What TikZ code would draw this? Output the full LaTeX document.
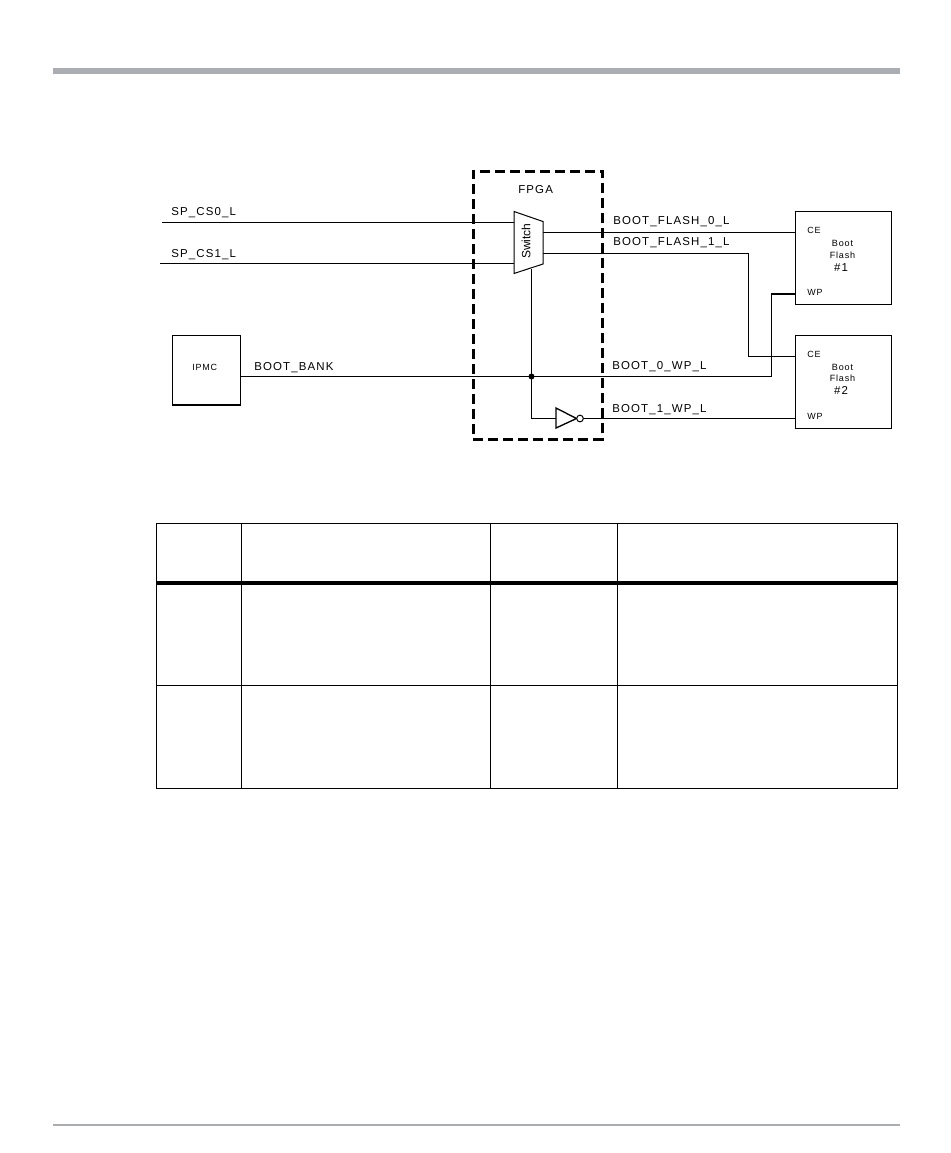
\documentclass[tikz,border=0pt]{standalone}
\usepackage{fontspec}
\setmainfont{Liberation Sans}
\newfontfamily\spacedfont[LetterSpace=10]{Liberation Sans}
\newfontfamily\smallspaced[LetterSpace=9]{Liberation Sans}
\definecolor{rulegray}{RGB}{170,173,178}
\tikzset{
  x=0.75pt,y=-0.75pt,
  wire/.style={draw=black,line width=0.75pt},
  box/.style={draw=black,line width=0.9pt,fill=white},
  sig/.style={anchor=base west,inner sep=0pt,font=\spacedfont\fontsize{8.6}{10}\selectfont,text=black},
  small/.style={anchor=base west,inner sep=0pt,font=\smallspaced\fontsize{6.7}{8}\selectfont,text=black},
  mid/.style={anchor=base,inner sep=0pt,align=center,font=\smallspaced\fontsize{6.8}{9.6}\selectfont,text=black},
  num/.style={anchor=base,inner sep=0pt,align=center,font=\spacedfont\fontsize{8.6}{10}\selectfont,text=black},
  rowline/.style={draw=black,line width=0.75pt},
}
\begin{document}
\begin{tikzpicture}
\useasboundingbox (0,0) rectangle (950,1153);
\fill[white] (0,0) rectangle (950,1153);
% page rules
\fill[rulegray] (53,68) rectangle (900,74);
\fill[rulegray] (53,1124) rectangle (900,1126);
% coordinates
\coordinate (cs0) at (162,222.5);
\coordinate (cs1) at (160,263.5);
\coordinate (swIn0) at (514,222.5);
\coordinate (swIn1) at (514,263.5);
\coordinate (swOut0) at (543,232.5);
\coordinate (swOut1) at (543,253.5);
\coordinate (swBot) at (531.5,269);
\coordinate (junc) at (531.5,376.5);
\coordinate (bend0) at (771,376.5);
\coordinate (bend0b) at (771,294);
\coordinate (bend1) at (748,253.5);
\coordinate (bend1b) at (748,356.5);
\coordinate (invCorner) at (531.5,418.5);
\coordinate (invIn) at (556,418.5);
\coordinate (invOut) at (583,418.5);
% fpga
\node[draw=black,line width=2.25pt,dash pattern=on 7.5pt off 3.75pt,minimum width=97.1pt,minimum height=201pt,inner sep=0pt,anchor=north west] (fpga) at (471.5,169.5) {};
% nodes
\node[box,minimum width=51pt,minimum height=52pt,inner sep=0pt,anchor=north west] (ipmc) at (172,335) {};
\node[small] (ipmct) at (192,370) {IPMC};
\node[box,minimum width=72pt,minimum height=69.5pt,inner sep=0pt,anchor=north west] (f1) at (795,211) {};
\node[box,minimum width=72pt,minimum height=69.5pt,inner sep=0pt,anchor=north west] (f2) at (795,335) {};
\node[small] (ce1) at (807,233) {CE};
\node[small] (wp1) at (807,295) {WP};
\node[small] (ce2) at (807,357) {CE};
\node[small] (wp2) at (807,419) {WP};
\node[mid] (t1a) at (842.5,246) {Boot};
\node[mid] (t1b) at (842.5,258) {Flash};
\node[num] (t1c) at (841,271) {\#1};
\node[mid] (t2a) at (842.5,370) {Boot};
\node[mid] (t2b) at (842.5,381) {Flash};
\node[num] (t2c) at (841,394) {\#2};
% labels
\node[sig] (l1) at (171,215.5) {SP\_CS0\_L};
\node[sig] (l2) at (171,257) {SP\_CS1\_L};
\node[sig] (l3) at (254,370) {BOOT\_BANK};
\node[sig] (l4) at (613,224) {BOOT\_FLASH\_0\_L};
\node[sig] (l5) at (613,245) {BOOT\_FLASH\_1\_L};
\node[sig] (l6) at (612,369) {BOOT\_0\_WP\_L};
\node[sig] (l7) at (612,412) {BOOT\_1\_WP\_L};
\node[sig] (l8) at (518,193) {FPGA};
% wires
\draw[wire] (cs0) -- (swIn0);
\draw[wire] (cs1) -- (swIn1);
\draw[wire] (swOut0) -- (f1.west |- swOut0);
\draw[wire] (swOut1) -- (bend1) -- (bend1b) -- (f2.west |- bend1b);
\draw[wire] (ipmc.east |- junc) -- (junc) -- (bend0) -- (bend0b);
\draw[wire,line width=1.4pt] (bend0b) -- (f1.west |- bend0b);
\draw[wire] (swBot) -- (junc) -- (invCorner) -- (invIn);
\draw[wire] (invOut) -- (f2.west |- invOut);
\fill[black] (junc) circle (3);
% switch
\draw[wire,fill=white] (514,211.5) -- (543,221.5) -- (543,264) -- (514,273.5) -- cycle;
\node[rotate=90,inner sep=0pt,font=\fontsize{9}{10}\selectfont] (swt) at (526,241) {Switch};
% inverter
\draw[wire,line width=1pt,fill=white] (556,408) -- (576.5,418.5) -- (556,428) -- cycle;
\node[circle,draw=black,line width=0.75pt,fill=white,minimum size=5pt,inner sep=0pt] (bub) at (580,418.5) {};
% table
\draw[rowline] (156.5,523.5) rectangle (897.5,788.5);
\draw[rowline] (241.5,523) -- (241.5,789);
\draw[rowline] (490.5,523) -- (490.5,789);
\draw[rowline] (617.5,523) -- (617.5,789);
\draw[draw=black,line width=3pt] (156.5,583) -- (897.5,583);
\draw[rowline] (156.5,685.5) -- (897.5,685.5);
\end{tikzpicture}
\end{document}
